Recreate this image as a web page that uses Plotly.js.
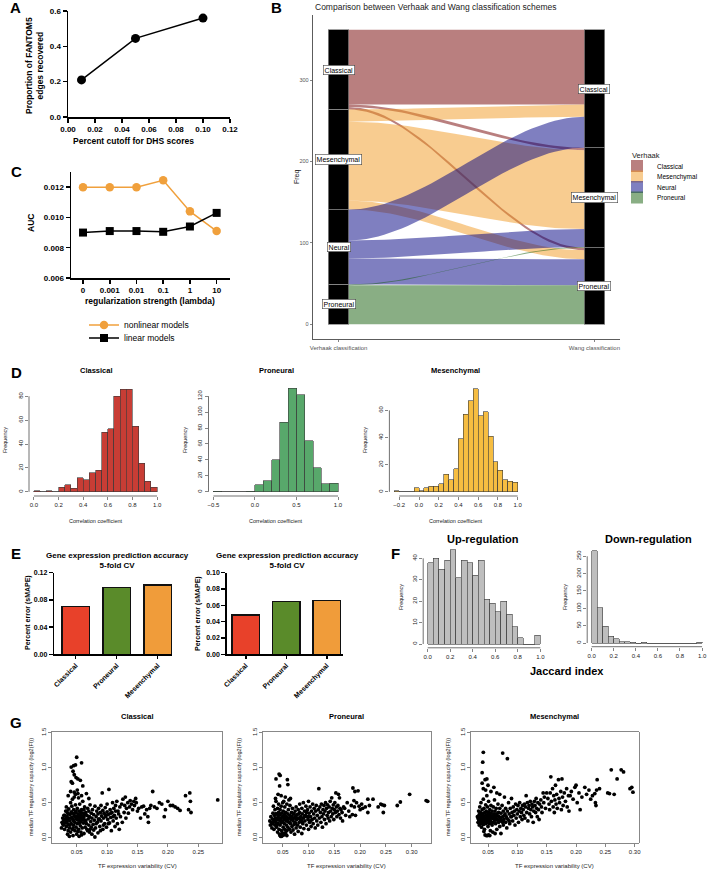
<!DOCTYPE html>
<html><head><meta charset="utf-8">
<script src="https://cdn.plot.ly/plotly-3.0.1.min.js"></script>
<style>html,body{margin:0;padding:0;background:#fff}</style>
</head><body><div id="chart" style="width:708px;height:873px"></div>
<script>
// ===== DATA =====
// Panel A
const aCutoff = [0.01, 0.05, 0.10];
const aProportion = [0.21, 0.445, 0.56];
// Panel C
const cLambda = ['0','0.001','0.01','0.1','1','10'];
const cNonlinear = [0.0120,0.0120,0.0120,0.01245,0.0104,0.0091];
const cLinear = [0.0090,0.0091,0.0091,0.00905,0.0094,0.0103];
// Panel B (alluvial): rows = Verhaak class, columns = Wang class
const bVerhaak = ['Classical','Mesenchymal','Neural','Proneural'];
const bWang = ['Classical','Mesenchymal','Proneural'];
const bFlowClassical = [92,3,3];
const bFlowMesenchymal = [15,97,11];
const bFlowNeural = [38,22,32];
const bFlowProneural = [0,1,48];
// Panel D histograms
const dClassicalBreaks = [0,0.05,0.1,0.15,0.2,0.25,0.3,0.35,0.4,0.45,0.5,0.55,0.6,0.65,0.7,0.75,0.8,0.85,0.9,0.95,1.0];
const dClassicalCounts = [1,0,1,0,4,6,3,12,10,16,18,50,53,80,86,86,55,24,9,4];
const dProneuralBreaks = [-0.5,-0.4,-0.3,-0.2,-0.1,0,0.1,0.2,0.3,0.4,0.5,0.6,0.7,0.8,0.9,1.0];
const dProneuralCounts = [1,0,0,0,1,9,14,40,87,130,122,64,30,10,11];
const dMesenchymalBreaks = [-0.25,-0.2,-0.15,-0.1,-0.05,0,0.05,0.1,0.15,0.2,0.25,0.3,0.35,0.4,0.45,0.5,0.55,0.6,0.65,0.7,0.75,0.8,0.85,0.9,0.95,1.0];
const dMesenchymalCounts = [1,0,0,0,3,1,3,4,4,6,13,9,17,39,57,67,76,56,59,41,22,16,9,8,7];
// Panel E
const eSubtypes = ['Classical','Proneural','Mesenchymal'];
const eSmapeLeft = [0.070,0.098,0.102];
const eSmapeRight = [0.048,0.065,0.066];
// Panel F
const fBreaks = [0,0.05,0.1,0.15,0.2,0.25,0.3,0.35,0.4,0.45,0.5,0.55,0.6,0.65,0.7,0.75,0.8,0.85,0.9,0.95,1.0];
const fUpCounts = [38,40,35,39,44,31,39,38,32,39,21,19,15,20,14,8,3,0,0,4];
const fDownCounts = [266,101,48,20,12,4,4,2,0,2,0,0,0,0,0,0,0,0,0,2];
// Panel G scatter: [CV, capacity]
const gClassical = [[0.025,0.14],[0.026,0.22],[0.027,0.28],[0.028,0.18],[0.029,0.25],[0.030,0.32],[0.030,0.12],[0.031,0.21],[0.032,0.38],[0.032,0.27],[0.033,0.16],[0.033,0.44],[0.034,0.30],[0.034,0.23],[0.035,0.05],[0.035,0.35],[0.036,0.19],[0.036,0.60],[0.037,0.28],[0.037,0.41],[0.038,0.02],[0.038,0.14],[0.039,0.33],[0.039,0.24],[0.040,0.50],[0.040,0.08],[0.041,0.37],[0.041,0.20],[0.042,0.29],[0.042,0.45],[0.043,0.12],[0.043,0.55],[0.044,0.26],[0.044,0.03],[0.045,0.40],[0.045,0.18],[0.046,0.32],[0.046,0.58],[0.047,0.22],[0.047,0.10],[0.048,0.36],[0.048,0.47],[0.049,0.27],[0.049,0.15],[0.050,0.30],[0.050,0.05],[0.051,0.42],[0.051,0.20],[0.052,0.34],[0.052,0.63],[0.053,0.25],[0.053,0.12],[0.054,0.38],[0.054,0.02],[0.055,0.29],[0.055,0.48],[0.056,0.17],[0.056,0.33],[0.057,0.23],[0.057,0.08],[0.058,0.40],[0.058,0.27],[0.059,0.14],[0.060,0.35],[0.060,0.52],[0.061,0.21],[0.062,0.30],[0.062,0.06],[0.063,0.44],[0.064,0.25],[0.064,0.15],[0.065,0.36],[0.066,0.20],[0.066,0.63],[0.067,0.32],[0.068,0.10],[0.068,0.42],[0.069,0.27],[0.070,0.18],[0.070,0.38],[0.071,0.30],[0.072,0.47],[0.072,0.12],[0.073,0.23],[0.074,0.35],[0.075,0.05],[0.075,0.28],[0.076,0.40],[0.077,0.19],[0.078,0.33],[0.079,0.25],[0.080,0.01],[0.080,0.45],[0.081,0.14],[0.082,0.30],[0.083,0.38],[0.084,0.22],[0.085,0.07],[0.085,0.34],[0.086,0.42],[0.087,0.27],[0.088,0.16],[0.089,0.36],[0.090,0.46],[0.090,0.24],[0.091,0.31],[0.092,0.64],[0.093,0.12],[0.093,0.39],[0.094,0.28],[0.095,0.35],[0.096,0.20],[0.097,0.43],[0.098,0.30],[0.099,0.15],[0.100,0.37],[0.100,0.48],[0.101,0.26],[0.102,0.33],[0.103,0.69],[0.104,0.21],[0.105,0.40],[0.106,0.29],[0.107,0.10],[0.108,0.36],[0.109,0.50],[0.110,0.24],[0.111,0.42],[0.112,0.32],[0.113,0.16],[0.114,0.46],[0.115,0.28],[0.116,0.52],[0.117,0.20],[0.118,0.38],[0.120,0.12],[0.121,0.44],[0.122,0.30],[0.124,0.48],[0.125,0.22],[0.126,0.55],[0.128,0.36],[0.129,0.46],[0.130,0.58],[0.131,0.28],[0.132,0.42],[0.134,0.50],[0.135,0.35],[0.137,0.44],[0.138,0.53],[0.140,0.48],[0.142,0.40],[0.144,0.52],[0.145,0.46],[0.147,0.56],[0.148,0.50],[0.150,0.38],[0.152,0.42],[0.155,0.28],[0.157,0.44],[0.160,0.45],[0.162,0.34],[0.165,0.40],[0.167,0.30],[0.168,0.22],[0.170,0.42],[0.172,0.46],[0.175,0.66],[0.178,0.44],[0.182,0.42],[0.186,0.50],[0.190,0.48],[0.194,0.30],[0.196,0.40],[0.200,0.52],[0.204,0.46],[0.208,0.46],[0.212,0.44],[0.216,0.42],[0.220,0.39],[0.229,0.60],[0.234,0.40],[0.236,0.64],[0.237,0.52],[0.238,0.36],[0.282,0.54],[0.050,1.15],[0.058,1.07],[0.045,1.03],[0.041,1.01],[0.048,1.04],[0.044,0.95],[0.046,0.90],[0.049,0.86],[0.052,0.84],[0.056,0.82],[0.041,0.80],[0.043,0.78],[0.060,0.74],[0.051,0.68],[0.046,0.65],[0.048,0.62],[0.058,0.60],[0.053,0.57],[0.040,0.66],[0.070,0.56],[0.027,0.20],[0.029,0.32],[0.031,0.27],[0.033,0.22],[0.035,0.26],[0.037,0.34],[0.039,0.18],[0.041,0.28],[0.043,0.35],[0.045,0.24],[0.047,0.30],[0.049,0.38],[0.051,0.26],[0.053,0.31],[0.055,0.21],[0.057,0.36],[0.059,0.30],[0.061,0.26],[0.063,0.33],[0.065,0.24],[0.034,0.38],[0.036,0.10],[0.044,0.14],[0.052,0.09],[0.058,0.04],[0.062,0.40],[0.067,0.12],[0.071,0.08],[0.074,0.15],[0.078,0.11],[0.082,0.20],[0.086,0.26],[0.089,0.10],[0.094,0.18],[0.097,0.33],[0.102,0.20],[0.106,0.35],[0.110,0.30],[0.114,0.38],[0.119,0.34]];
const gProneural = [[0.025,0.24],[0.026,0.18],[0.027,0.30],[0.028,0.22],[0.029,0.14],[0.030,0.27],[0.031,0.35],[0.031,0.20],[0.032,0.45],[0.033,0.25],[0.033,0.12],[0.034,0.32],[0.035,0.18],[0.035,0.40],[0.036,0.28],[0.037,0.22],[0.037,0.52],[0.038,0.34],[0.038,0.15],[0.039,0.26],[0.040,0.42],[0.040,0.08],[0.041,0.30],[0.041,0.20],[0.042,0.36],[0.042,0.48],[0.043,0.12],[0.043,0.25],[0.044,0.05],[0.044,0.33],[0.045,0.40],[0.045,0.18],[0.046,0.02],[0.046,0.28],[0.047,0.22],[0.047,0.45],[0.048,0.35],[0.048,0.10],[0.049,0.30],[0.049,0.06],[0.050,0.24],[0.050,0.50],[0.051,0.15],[0.051,0.38],[0.052,0.28],[0.052,0.04],[0.053,0.33],[0.053,0.20],[0.054,0.44],[0.054,0.12],[0.055,0.26],[0.055,0.07],[0.056,0.36],[0.057,0.18],[0.057,0.30],[0.058,0.48],[0.058,0.10],[0.059,0.24],[0.060,0.34],[0.060,0.15],[0.061,0.40],[0.062,0.22],[0.062,0.28],[0.063,0.12],[0.064,0.32],[0.064,0.46],[0.065,0.20],[0.066,0.26],[0.066,0.08],[0.067,0.36],[0.068,0.16],[0.068,0.30],[0.069,0.42],[0.070,0.24],[0.070,0.11],[0.071,0.34],[0.072,0.19],[0.072,0.28],[0.073,0.05],[0.074,0.38],[0.074,0.22],[0.075,0.30],[0.076,0.14],[0.076,0.44],[0.077,0.26],[0.078,0.33],[0.079,0.18],[0.080,0.40],[0.080,0.09],[0.081,0.28],[0.082,0.22],[0.083,0.36],[0.083,0.48],[0.084,0.15],[0.085,0.30],[0.086,0.25],[0.087,0.42],[0.087,0.06],[0.088,0.34],[0.089,0.20],[0.090,0.28],[0.090,0.50],[0.091,0.13],[0.092,0.38],[0.093,0.24],[0.094,0.32],[0.095,0.45],[0.096,0.18],[0.097,0.30],[0.098,0.40],[0.099,0.26],[0.100,0.52],[0.100,0.12],[0.101,0.35],[0.102,0.22],[0.103,0.44],[0.104,0.30],[0.105,0.16],[0.106,0.38],[0.107,0.26],[0.108,0.48],[0.109,0.20],[0.110,0.34],[0.111,0.42],[0.112,0.28],[0.113,0.14],[0.114,0.38],[0.115,0.46],[0.116,0.24],[0.117,0.32],[0.118,0.18],[0.119,0.40],[0.120,0.70],[0.121,0.28],[0.122,0.44],[0.123,0.36],[0.124,0.22],[0.125,0.48],[0.126,0.30],[0.127,0.15],[0.128,0.40],[0.129,0.34],[0.130,0.46],[0.131,0.26],[0.132,0.38],[0.133,0.50],[0.134,0.20],[0.135,0.42],[0.136,0.32],[0.137,0.47],[0.138,0.28],[0.139,0.36],[0.140,0.44],[0.141,0.24],[0.142,0.52],[0.143,0.38],[0.144,0.30],[0.145,0.57],[0.146,0.42],[0.147,0.34],[0.148,0.47],[0.149,0.26],[0.150,0.40],[0.151,0.50],[0.152,0.36],[0.153,0.64],[0.154,0.44],[0.155,0.30],[0.156,0.38],[0.157,0.46],[0.158,0.62],[0.159,0.33],[0.160,0.57],[0.161,0.42],[0.162,0.28],[0.163,0.40],[0.165,0.36],[0.166,0.24],[0.168,0.44],[0.170,0.42],[0.172,0.32],[0.175,0.50],[0.178,0.38],[0.180,0.30],[0.183,0.46],[0.185,0.33],[0.186,0.71],[0.188,0.53],[0.189,0.44],[0.190,0.66],[0.191,0.32],[0.193,0.50],[0.196,0.67],[0.198,0.45],[0.200,0.40],[0.203,0.48],[0.205,0.42],[0.210,0.44],[0.215,0.36],[0.215,0.55],[0.218,0.46],[0.225,0.55],[0.235,0.44],[0.240,0.48],[0.243,0.47],[0.245,0.36],[0.247,0.46],[0.272,0.46],[0.278,0.51],[0.296,0.62],[0.328,0.53],[0.331,0.52],[0.043,0.91],[0.045,0.89],[0.037,0.84],[0.059,0.83],[0.060,0.76],[0.044,0.74],[0.041,0.62],[0.036,0.56],[0.047,0.60],[0.055,0.58],[0.065,0.56],[0.052,0.52],[0.062,0.54],[0.045,0.03],[0.048,0.02],[0.050,0.04],[0.053,0.06],[0.056,0.05],[0.058,0.03],[0.030,0.20],[0.034,0.24],[0.036,0.34],[0.039,0.18],[0.042,0.28],[0.045,0.26],[0.048,0.22],[0.051,0.30],[0.054,0.26],[0.057,0.24],[0.060,0.28],[0.063,0.22],[0.066,0.30],[0.069,0.26],[0.072,0.34],[0.075,0.20],[0.078,0.28],[0.081,0.34],[0.084,0.26],[0.088,0.22],[0.092,0.30],[0.096,0.36],[0.100,0.30],[0.104,0.24]];
const gMesenchymal = [[0.032,0.30],[0.033,0.22],[0.034,0.38],[0.034,0.26],[0.035,0.18],[0.035,0.33],[0.036,0.44],[0.036,0.28],[0.037,0.20],[0.037,0.36],[0.038,0.25],[0.038,0.50],[0.039,0.31],[0.039,0.15],[0.040,0.40],[0.040,0.22],[0.041,0.34],[0.041,0.27],[0.042,0.55],[0.042,0.19],[0.043,0.30],[0.043,0.42],[0.044,0.24],[0.044,0.12],[0.045,0.36],[0.045,0.28],[0.046,0.47],[0.046,0.20],[0.047,0.32],[0.047,0.38],[0.048,0.26],[0.048,0.60],[0.049,0.22],[0.049,0.44],[0.050,0.30],[0.050,0.16],[0.051,0.36],[0.051,0.52],[0.052,0.26],[0.052,0.20],[0.053,0.40],[0.053,0.32],[0.054,0.24],[0.054,0.10],[0.055,0.35],[0.055,0.46],[0.056,0.28],[0.057,0.18],[0.057,0.38],[0.058,0.30],[0.059,0.44],[0.059,0.22],[0.060,0.34],[0.061,0.26],[0.061,0.54],[0.062,0.38],[0.063,0.20],[0.063,0.30],[0.064,0.42],[0.065,0.12],[0.065,0.34],[0.066,0.26],[0.067,0.48],[0.068,0.22],[0.068,0.36],[0.069,0.30],[0.070,0.16],[0.070,0.42],[0.071,0.28],[0.072,0.06],[0.072,0.35],[0.073,0.24],[0.074,0.46],[0.075,0.30],[0.076,0.38],[0.076,0.18],[0.077,0.26],[0.078,0.58],[0.079,0.34],[0.080,0.22],[0.080,0.42],[0.081,0.30],[0.082,0.14],[0.083,0.38],[0.084,0.26],[0.085,0.50],[0.086,0.34],[0.087,0.20],[0.088,0.42],[0.089,0.30],[0.090,0.56],[0.091,0.36],[0.092,0.24],[0.093,0.44],[0.094,0.32],[0.095,0.38],[0.096,0.18],[0.097,0.48],[0.098,0.28],[0.099,0.40],[0.100,0.34],[0.101,0.46],[0.102,0.22],[0.103,0.38],[0.104,0.50],[0.105,0.30],[0.106,0.42],[0.107,0.36],[0.108,0.26],[0.109,0.46],[0.110,0.40],[0.111,0.32],[0.112,0.48],[0.113,0.28],[0.114,0.44],[0.115,0.60],[0.116,0.36],[0.117,0.50],[0.118,0.24],[0.119,0.42],[0.120,0.46],[0.121,0.34],[0.122,0.52],[0.123,0.40],[0.124,0.30],[0.125,0.48],[0.126,0.44],[0.127,0.22],[0.128,0.38],[0.129,0.52],[0.130,0.46],[0.131,0.36],[0.132,0.56],[0.133,0.42],[0.134,0.30],[0.135,0.50],[0.136,0.40],[0.137,0.26],[0.138,0.48],[0.140,0.54],[0.141,0.44],[0.142,0.36],[0.144,0.64],[0.145,0.50],[0.146,0.58],[0.148,0.42],[0.150,0.64],[0.152,0.56],[0.154,0.48],[0.155,0.40],[0.156,0.64],[0.157,0.87],[0.158,0.52],[0.160,0.70],[0.161,0.44],[0.162,0.60],[0.163,0.36],[0.164,0.54],[0.165,0.75],[0.166,0.48],[0.167,0.62],[0.168,0.42],[0.170,0.83],[0.171,0.56],[0.172,0.50],[0.174,0.66],[0.175,0.40],[0.176,0.84],[0.177,0.58],[0.178,0.46],[0.180,0.64],[0.182,0.52],[0.184,0.70],[0.185,0.44],[0.187,0.60],[0.188,0.38],[0.190,0.60],[0.192,0.66],[0.195,0.55],[0.198,0.72],[0.200,0.75],[0.202,0.50],[0.205,0.64],[0.207,0.40],[0.210,0.58],[0.215,0.72],[0.218,0.62],[0.222,0.68],[0.225,0.55],[0.228,0.60],[0.232,0.63],[0.233,0.50],[0.234,0.46],[0.235,0.68],[0.236,0.83],[0.240,0.70],[0.254,0.64],[0.257,0.63],[0.260,0.97],[0.265,0.62],[0.270,0.84],[0.277,0.97],[0.281,0.94],[0.292,0.70],[0.295,0.72],[0.297,0.65],[0.042,1.22],[0.041,1.08],[0.040,0.93],[0.075,1.21],[0.083,1.13],[0.045,0.83],[0.048,0.84],[0.040,0.78],[0.050,0.75],[0.042,0.70],[0.046,0.68],[0.055,0.66],[0.060,0.72],[0.065,0.64],[0.070,0.62],[0.045,0.04],[0.047,0.03],[0.049,0.03],[0.051,0.04],[0.053,0.03],[0.043,0.09],[0.058,0.08],[0.062,0.06],[0.033,0.28],[0.035,0.24],[0.037,0.30],[0.039,0.26],[0.041,0.20],[0.043,0.35],[0.045,0.22],[0.047,0.27],[0.049,0.33],[0.051,0.25],[0.053,0.28],[0.055,0.21],[0.057,0.31],[0.059,0.27],[0.061,0.33],[0.063,0.25],[0.066,0.31],[0.069,0.24],[0.072,0.28],[0.075,0.22],[0.078,0.32],[0.082,0.28],[0.086,0.24],[0.090,0.30]];

// ===== LAYOUT HELPERS =====
const W = 708, H = 873;
const FONT = 'Liberation Sans, Arial, Helvetica, sans-serif';
const dx = (a,b) => [a/W, b/W];
const dy = (t,b) => [1-b/H, 1-t/H];
const traces = [], shapes = [], annotations = [];
const layout = {
  width: W, height: H, margin:{l:0,r:0,t:0,b:0},
  paper_bgcolor:'#fff', plot_bgcolor:'rgba(0,0,0,0)',
  font:{family:FONT, color:'#000'}, barmode:'stack', bargap:0,
  showlegend:true, hovermode:false
};
function ann(text, x, y, size, opts){
  annotations.push(Object.assign({text, x:x/W, y:1-y/H, xref:'paper', yref:'paper', showarrow:false,
    xanchor:'center', yanchor:'middle', font:{size, family:FONT, color:'#000'}}, opts||{}));
}
function oneLegend(key, x, y, size){
  layout[key] = {x:x/W, y:1-y/H, xanchor:'left', yanchor:'middle', font:{size, family:FONT, color:'#000'},
    bgcolor:'rgba(0,0,0,0)', borderwidth:0, itemwidth:30, tracegroupgap:0};
}

// ===== PANEL A (GraphPad style) =====
function gpAxis(dom, range, extra){
  return Object.assign({domain:dom, range, showline:true, linewidth:1.5, linecolor:'#000', ticks:'outside',
    ticklen:4, tickwidth:1.5, tickcolor:'#000', tickfont:{size:8, weight:'bold', color:'#000', family:FONT},
    showgrid:false, zeroline:false, fixedrange:true}, extra);
}
layout.xaxis = gpAxis(dx(68,230), [0,0.12], {tickvals:[0,0.02,0.04,0.06,0.08,0.10,0.12], tickformat:'.2f', anchor:'y'});
layout.yaxis = gpAxis(dy(11,117), [0,0.6], {tickvals:[0,0.2,0.4,0.6], tickformat:'.1f', anchor:'x'});
traces.push({type:'scatter', mode:'lines+markers', x:aCutoff, y:aProportion, xaxis:'x', yaxis:'y',
  line:{color:'#000', width:1.5}, marker:{color:'#000', size:9}, showlegend:false, cliponaxis:false});
ann('A', 15, 8, 15, {font:{size:15, weight:'bold', family:FONT}});
ann('Proportion of FANTOM5<br>edges recovered', 35, 66, 8.5, {textangle:-90, font:{size:8.5, weight:'bold', family:FONT}});
ann('Percent cutoff for DHS scores', 133, 141, 8.5, {font:{size:8.5, weight:'bold', family:FONT}});

// ===== PANEL C =====
layout.xaxis2 = gpAxis(dx(71,230), [-0.45,5.5], {type:'category', anchor:'y2'});
layout.yaxis2 = gpAxis(dy(172,278), [0.006,0.013], {tickvals:[0.006,0.008,0.010,0.012], tickformat:'.3f', anchor:'x2'});
traces.push({type:'scatter', mode:'lines+markers', name:'nonlinear models', x:cLambda, y:cNonlinear, xaxis:'x2', yaxis:'y2',
  line:{color:'#f0a03c', width:1.5}, marker:{color:'#f0a03c', size:8.5, symbol:'circle'}, legend:'legend', cliponaxis:false});
traces.push({type:'scatter', mode:'lines+markers', name:'linear models', x:cLambda, y:cLinear, xaxis:'x2', yaxis:'y2',
  line:{color:'#000', width:1.5}, marker:{color:'#000', size:8, symbol:'square'}, legend:'legend3', cliponaxis:false});
oneLegend('legend', 84, 325, 8.5);
oneLegend('legend3', 84, 338, 8.5);
ann('C', 16, 172, 15, {font:{size:15, weight:'bold', family:FONT}});
ann('AUC', 31, 223, 8.5, {textangle:-90, font:{size:8.5, weight:'bold', family:FONT}});
ann('regularization strength (lambda)', 150, 301, 8.5, {font:{size:8.5, weight:'bold', family:FONT}});

// ===== PANEL B (alluvial) =====
const flows = [bFlowClassical, bFlowMesenchymal, bFlowNeural, bFlowProneural];
const classColor = {Classical:'rgba(115,0,0,0.5)', Mesenchymal:'rgba(241,153,33,0.5)', Neural:'rgba(0,0,130,0.5)', Proneural:'rgba(20,93,9,0.5)'};
const nS = bVerhaak.length, nT = bWang.length;
const leftTot = flows.map(r => r.reduce((s,v)=>s+v,0));
const rightTot = bWang.map((_,j) => flows.reduce((s,r)=>s+r[j],0));
const leftBottom = [], rightBottom = [];
let acc = 0; for (let i=nS-1;i>=0;i--){ leftBottom[i]=acc; acc+=leftTot[i]; }
acc = 0; for (let j=nT-1;j>=0;j--){ rightBottom[j]=acc; acc+=rightTot[j]; }
const SW = 0.04;
for (let i=0;i<nS;i++){
  for (let j=0;j<nT;j++){
    const v = flows[i][j]; if (!v) continue;
    let offL = 0; for (let k=0;k<j;k++) offL += flows[i][k];
    let offR = 0; for (let k=0;k<i;k++) offR += flows[k][j];
    const a1 = leftBottom[i]+leftTot[i]-offL, a0 = a1 - v;
    const b1 = rightBottom[j]+rightTot[j]-offR, b0 = b1 - v;
    const xs=[], ys=[], n=40;
    for (let s=0;s<=n;s++){ const t=s/n, e=t*t*(3-2*t); xs.push(1+SW+(1-2*SW)*t); ys.push(a1+(b1-a1)*e); }
    for (let s=n;s>=0;s--){ const t=s/n, e=t*t*(3-2*t); xs.push(1+SW+(1-2*SW)*t); ys.push(a0+(b0-a0)*e); }
    const cls = bVerhaak[i];
    traces.push({type:'scatter', mode:'lines', x:xs, y:ys, fill:'toself', fillcolor:classColor[cls],
      line:{width:0, color:classColor[cls]}, xaxis:'x3', yaxis:'y3', name:cls, legendgroup:cls, showlegend:false});
  }
}
// legend-only entries for the Verhaak classes (one legend box per entry for exact spacing)
const bLegendKeys = ['legend2','legend4','legend5','legend6'];
const bLegendY = [166, 176.5, 187, 197.5];
bVerhaak.forEach((cls,i)=>{
  traces.push({type:'bar', x:[null], y:[null], xaxis:'x3', yaxis:'y3', name:cls, legendgroup:cls, legend:bLegendKeys[i],
    showlegend:true, marker:{color:classColor[cls], line:{width:0}}});
  oneLegend(bLegendKeys[i], 617, bLegendY[i], 6.5);
});
for (let i=nS-1;i>=0;i--){
  traces.push({type:'bar', x:[1], y:[leftTot[i]], width:[2*SW], xaxis:'x3', yaxis:'y3', showlegend:false,
    marker:{color:'#000', line:{color:'#8a8a8a', width:0.8}}});
  annotations.push({text:bVerhaak[i], x:1, y:leftBottom[i]+leftTot[i]/2, xref:'x3', yref:'y3', showarrow:false,
    bgcolor:'#fff', bordercolor:'#444', borderwidth:0.6, borderpad:1, font:{size:7, family:FONT, color:'#000'}});
}
for (let j=nT-1;j>=0;j--){
  traces.push({type:'bar', x:[2], y:[rightTot[j]], width:[2*SW], xaxis:'x3', yaxis:'y3', showlegend:false,
    marker:{color:'#000', line:{color:'#8a8a8a', width:0.8}}});
  annotations.push({text:bWang[j], x:2, y:rightBottom[j]+rightTot[j]/2, xref:'x3', yref:'y3', showarrow:false,
    bgcolor:'#fff', bordercolor:'#444', borderwidth:0.6, borderpad:1, font:{size:7, family:FONT, color:'#000'}});
}
layout.xaxis3 = {domain:dx(313,620), range:[0.9,2.1], tickvals:[1,2], ticktext:['Verhaak classification','Wang classification'],
  showline:true, linecolor:'#333', linewidth:0.8, ticks:'outside', ticklen:2.5, tickwidth:0.6, tickcolor:'#333',
  tickfont:{size:6, color:'#555', family:FONT}, showgrid:false, zeroline:false, anchor:'y3', fixedrange:true};
layout.yaxis3 = {domain:dy(15,339), range:[-18,380], tickvals:[0,100,200,300],
  showline:true, linecolor:'#333', linewidth:0.8, ticks:'outside', ticklen:2.5, tickwidth:0.6, tickcolor:'#333',
  tickfont:{size:5.5, color:'#555', family:FONT}, showgrid:false, zeroline:false, anchor:'x3', fixedrange:true};
ann('B', 276, 8, 15, {font:{size:15, weight:'bold', family:FONT}});
ann('Comparison between Verhaak and Wang classification schemes', 313, 7, 8.5, {xanchor:'left', font:{size:8.5, family:FONT, color:'#222'}});
ann('Freq', 297, 177, 7, {textangle:-90, font:{size:7, family:FONT, color:'#222'}});
ann('Verhaak', 630, 155, 7.5, {xanchor:'left', font:{size:7.5, family:FONT, color:'#222'}});

// ===== R-style axes helper =====
function rAxes(n, xdom, ydom, xr, yr, xt, yt, xfmt, yfmt, box){
  const base = {showgrid:false, zeroline:false, ticks:'outside', ticklen:3, tickwidth:0.6, tickcolor:'#333',
    tickfont:{size:6, color:'#222', family:FONT}, fixedrange:true};
  layout['xaxis'+n] = Object.assign({}, base, {domain:xdom, range:xr, tickvals:xt, tickformat:xfmt, anchor:'y'+n,
    showline:!!box, mirror:!!box, linecolor:'#555', linewidth:0.7});
  layout['yaxis'+n] = Object.assign({}, base, {domain:ydom, range:yr, tickvals:yt, tickformat:yfmt, anchor:'x'+n, tickangle:-90,
    showline:!!box, mirror:!!box, linecolor:'#555', linewidth:0.7});
  if (!box){
    shapes.push({type:'line', xref:'x'+n, yref:'y'+n+' domain', x0:xt[0], x1:xt[xt.length-1], y0:0, y1:0, line:{color:'#333', width:0.7}});
    shapes.push({type:'line', xref:'x'+n+' domain', yref:'y'+n, x0:0, x1:0, y0:yt[0], y1:yt[yt.length-1], line:{color:'#333', width:0.7}});
  }
}
function histTrace(n, breaks, counts, color){
  const x=[], w=[];
  for (let i=0;i<counts.length;i++){ x.push((breaks[i]+breaks[i+1])/2); w.push(breaks[i+1]-breaks[i]); }
  traces.push({type:'bar', x, y:counts, width:w, xaxis:'x'+n, yaxis:'y'+n, showlegend:false,
    marker:{color, line:{color:'#3a3a3a', width:0.6}}});
}

// ===== PANEL D =====
rAxes(4, dx(29,162), dy(385,496), [-0.04,1.04], [-3.44,89.44], [0,0.2,0.4,0.6,0.8,1.0], [0,20,40,60,80], '.1f', 'd');
histTrace(4, dClassicalBreaks, dClassicalCounts, '#c83d35');
rAxes(5, dx(208.5,343), dy(384,496), [-0.56,1.06], [-5.2,135.2], [-0.5,0,0.5,1.0], [0,20,40,60,80,100,120], '.1f', 'd');
histTrace(5, dProneuralBreaks, dProneuralCounts, '#58a86b');
rAxes(6, dx(389.4,522.6), dy(384.5,496), [-0.3,1.05], [-3.04,79.04], [-0.2,0,0.2,0.4,0.6,0.8,1.0], [0,20,40,60], '.1f', 'd');
histTrace(6, dMesenchymalBreaks, dMesenchymalCounts, '#f6bd41');
ann('D', 16, 372, 15, {font:{size:15, weight:'bold', family:FONT}});
[['Classical',96],['Proneural',276],['Mesenchymal',456]].forEach(([t,x])=>{
  ann(t, x, 370, 7.5, {font:{size:7.5, weight:'bold', family:FONT}});
  ann('Correlation coefficient', x, 521, 5.5, {font:{size:5.5, family:FONT, color:'#222'}});
});
[5,185,365].forEach(x=>ann('Frequency', x, 440, 5.5, {textangle:-90, font:{size:5.5, family:FONT, color:'#222'}}));

// ===== PANEL E =====
const eColors = ['#e8412a','#5a8b2a','#f09c3a'];
const eTick = () => ({size:7, weight:'bold', family:FONT, color:'#000'});
layout.xaxis7 = gpAxis(dx(54.3,172), [-0.52,2.35], {type:'category', anchor:'y7', tickangle:-45, ticklen:3, tickfont:eTick()});
layout.yaxis7 = gpAxis(dy(572.7,654.3), [0,0.12], {tickvals:[0,0.04,0.08,0.12], tickformat:'.2f', anchor:'x7', tickfont:eTick()});
layout.xaxis8 = gpAxis(dx(226.7,343), [-0.47,2.4], {type:'category', anchor:'y8', tickangle:-45, ticklen:3, tickfont:eTick()});
layout.yaxis8 = gpAxis(dy(572.7,654.3), [0,0.10], {tickvals:[0,0.02,0.04,0.06,0.08,0.10], tickformat:'.2f', anchor:'x8', tickfont:eTick()});
traces.push({type:'bar', x:eSubtypes, y:eSmapeLeft, width:0.67, xaxis:'x7', yaxis:'y7', showlegend:false,
  marker:{color:eColors, line:{color:'#111', width:1.5}}});
traces.push({type:'bar', x:eSubtypes, y:eSmapeRight, width:0.67, xaxis:'x8', yaxis:'y8', showlegend:false,
  marker:{color:eColors, line:{color:'#111', width:1.5}}});
ann('E', 16, 553, 15, {font:{size:15, weight:'bold', family:FONT}});
ann('Gene expression prediction accuracy<br>5-fold CV', 117, 560, 8, {font:{size:8, weight:'bold', family:FONT}});
ann('Gene expression prediction accuracy<br>5-fold CV', 287, 560, 8, {font:{size:8, weight:'bold', family:FONT}});
ann('Percent error (sMAPE)', 28, 613, 7, {textangle:-90, font:{size:7, weight:'bold', family:FONT}});
ann('Percent error (sMAPE)', 198, 613, 7, {textangle:-90, font:{size:7, weight:'bold', family:FONT}});

// ===== PANEL F =====
rAxes(9, dx(423.2,544.8), dy(546,647.8), [-0.04,1.04], [-1.76,45.76], [0,0.2,0.4,0.6,0.8,1.0], [0,10,20,30,40], '.1f', 'd');
histTrace(9, fBreaks, fUpCounts, '#bebebe');
rAxes(10, dx(587.2,706.5), dy(547,646.7), [-0.04,1.04], [-10.64,276.64], [0,0.2,0.4,0.6,0.8,1.0], [0,50,100,150,200,250], '.1f', 'd');
histTrace(10, fBreaks, fDownCounts, '#bebebe');
ann('F', 395, 553, 15, {font:{size:15, weight:'bold', family:FONT}});
ann('Up-regulation', 483, 539, 11, {font:{size:11, weight:'bold', family:FONT}});
ann('Down-regulation', 648, 539, 11, {font:{size:11, weight:'bold', family:FONT}});
ann('Frequency', 401, 597, 5.5, {textangle:-90, font:{size:5.5, family:FONT, color:'#222'}});
ann('Frequency', 565, 597, 5.5, {textangle:-90, font:{size:5.5, family:FONT, color:'#222'}});
ann('Jaccard index', 567, 671, 11, {font:{size:11, weight:'bold', family:FONT}});

// ===== PANEL G =====
const gPanels = [
  {n:11, data:gClassical, title:'Classical', xd:[52,222], xr:[0.0094,0.289], xt:[0.05,0.10,0.15,0.20,0.25], yt:31},
  {n:12, data:gProneural, title:'Proneural', xd:[262.7,431], xr:[0.0112,0.3374], xt:[0.05,0.10,0.15,0.20,0.25,0.30], yt:239},
  {n:13, data:gMesenchymal, title:'Mesenchymal', xd:[471,638.7], xr:[0.021,0.3068], xt:[0.05,0.10,0.15,0.20,0.25,0.30], yt:448}
];
gPanels.forEach(p=>{
  rAxes(p.n, dx(p.xd[0],p.xd[1]), dy(731.7,843.3), p.xr, [-0.08,1.515], p.xt, [0,0.5,1.0,1.5], '.2f', '.1f', true);
  traces.push({type:'scatter', mode:'markers', x:p.data.map(d=>d[0]), y:p.data.map(d=>d[1]), xaxis:'x'+p.n, yaxis:'y'+p.n,
    marker:{color:'#000', size:3.8}, showlegend:false});
  const cx = (p.xd[0]+p.xd[1])/2;
  ann(p.title, cx, 716, 7.5, {font:{size:7.5, weight:'bold', family:FONT}});
  ann('TF expression variability (CV)', cx, 866, 6, {font:{size:6, family:FONT, color:'#222'}});
  ann('median TF regulatory capacity (log2(FI))', p.yt, 787, 5.5, {textangle:-90, font:{size:5.5, family:FONT, color:'#222'}});
});
ann('G', 16, 722, 15, {font:{size:15, weight:'bold', family:FONT}});

layout.shapes = shapes;
layout.annotations = annotations;
Plotly.newPlot('chart', traces, layout, {displayModeBar:false, staticPlot:true});
</script>
</body></html>
